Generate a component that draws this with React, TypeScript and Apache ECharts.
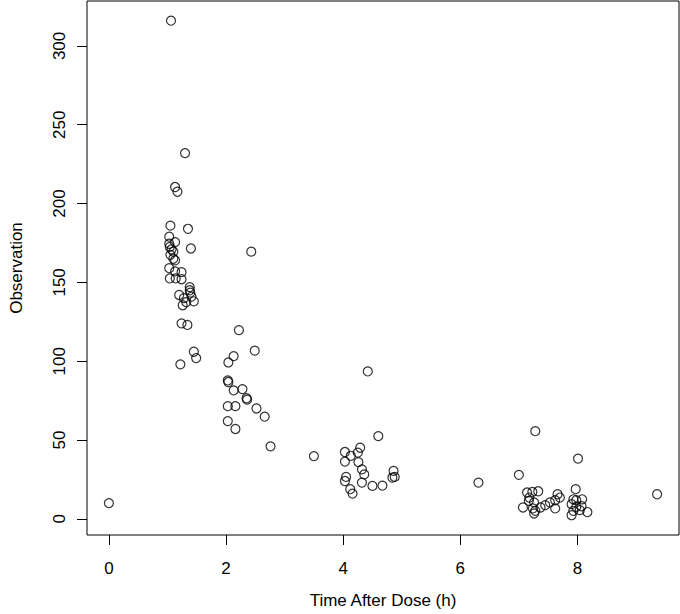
import React, { useEffect, useRef } from "react";
import * as echarts from "echarts";

// Time after dose (h) and the matching observation
const timeAfterDose = [
  0.0,
  1.06, 1.3, 1.13, 1.17, 1.05, 1.35, 1.03, 1.13, 1.03, 1.04, 1.07, 1.4, 1.1, 1.05, 1.1, 1.13,
  1.03, 1.13, 1.24, 1.04, 1.14, 1.24, 1.38, 1.38, 1.39, 1.2, 1.28, 1.41, 1.45, 1.32, 1.26,
  1.24, 1.34, 1.45, 1.49, 1.22,
  2.43, 2.22, 2.49, 2.13, 2.04, 2.03, 2.04, 2.13, 2.28, 2.35, 2.36, 2.52, 2.66, 2.03, 2.16,
  2.03, 2.16, 2.76, 3.5,
  4.42, 4.6, 4.03, 4.29, 4.13, 4.25, 4.03, 4.26, 4.32, 4.36, 4.86, 4.88, 4.84, 4.05, 4.03,
  4.32, 4.5, 4.67, 4.12, 4.16,
  6.31, 7.28, 7.0, 8.01, 9.36,
  7.14, 7.23, 7.33, 7.18, 7.17, 7.26, 7.07, 7.24, 7.28, 7.26, 7.37, 7.45, 7.53, 7.62, 7.66,
  7.7, 7.62, 7.97, 7.93, 7.98, 8.08, 7.9, 7.98, 8.07, 7.93, 8.04, 8.17, 7.9,
];

const observation = [
  10,
  316, 232, 210.5, 207.5, 186, 184, 179, 175.5, 174.5, 172.5, 171, 171.5, 169.5, 167.5, 165, 164,
  159, 157, 156.5, 152.5, 152.5, 152, 147, 145, 143.5, 142, 140, 141, 138, 137.5, 135.5,
  124, 123, 106, 102, 98,
  169.5, 119.7, 106.7, 103.2, 99.2, 87.8, 86.8, 81.5, 82.3, 76.5, 75.6, 70, 64.8, 71.5, 71.5,
  62, 57, 46, 39.8,
  93.5, 52.5, 42.4, 45.1, 40, 42, 36.3, 36, 31.4, 28.2, 30.4, 26.6, 26.2, 26.6, 24,
  23, 20.9, 21.1, 18.8, 16,
  23, 55.6, 27.9, 38.2, 15.6,
  16.7, 17.1, 17.5, 13.5, 11.4, 10.4, 7.2, 6.6, 5.1, 3.4, 7.2, 8.7, 10.4, 11.8, 15.6,
  13.5, 6.6, 18.8, 12.4, 11.8, 12.4, 9.3, 7.6, 8.0, 5.1, 5.5, 4.3, 2.3,
];

const xTickValues = [0, 2, 4, 6, 8];
const yTickValues = [0, 50, 100, 150, 200, 250, 300];
const xTitle = "Time After Dose (h)";
const yTitle = "Observation";

const FONT = "'Liberation Sans', Arial, Helvetica, sans-serif";
const FONT_SIZE = 17;

export default function App() {
  const ref = useRef<HTMLDivElement>(null);

  useEffect(() => {
    if (!ref.current) return;
    const chart = echarts.init(ref.current, null, { renderer: "svg" });
    const points = timeAfterDose.map((t, i) => [t, observation[i]]);

    chart.setOption({
      animation: false,
      backgroundColor: "#ffffff",
      grid: {
        left: 79,
        right: 1,
        top: 1,
        bottom: 77,
        show: true,
        borderColor: "#000",
        borderWidth: 1,
        backgroundColor: "transparent",
      },
      xAxis: {
        type: "value",
        min: -0.374,
        max: 9.734,
        splitLine: { show: false },
        axisLine: { show: false, onZero: false },
        axisTick: {
          show: true,
          inside: false,
          length: 10,
          lineStyle: { color: "#000", width: 1 },
          customValues: xTickValues,
        },
        axisLabel: {
          customValues: xTickValues,
          margin: 25,
          fontSize: FONT_SIZE,
          color: "#000",
          fontFamily: FONT,
        },
        name: xTitle,
        nameLocation: "middle",
        nameGap: 57,
        nameTextStyle: { fontSize: FONT_SIZE, color: "#000", fontFamily: FONT },
      },
      yAxis: {
        type: "value",
        min: -10.25,
        max: 328.5,
        splitLine: { show: false },
        axisLine: { show: false, onZero: false },
        axisTick: {
          show: true,
          inside: false,
          length: 10,
          lineStyle: { color: "#000", width: 1 },
          customValues: yTickValues,
        },
        axisLabel: {
          customValues: yTickValues,
          rotate: 90,
          margin: 19,
          fontSize: FONT_SIZE,
          color: "#000",
          fontFamily: FONT,
        },
        name: yTitle,
        nameLocation: "middle",
        nameGap: 62,
        nameTextStyle: { fontSize: FONT_SIZE, color: "#000", fontFamily: FONT },
      },
      series: [
        {
          type: "scatter",
          data: points,
          symbol: "circle",
          symbolSize: 9,
          itemStyle: {
            color: "rgba(0,0,0,0)",
            borderColor: "#000",
            borderWidth: 1.2,
          },
        },
      ],
    });

    return () => chart.dispose();
  }, []);

  return (
    <div
      ref={ref}
      style={{
        position: "fixed",
        left: 0,
        top: 0,
        width: 680,
        height: 614,
        background: "#fff",
      }}
    />
  );
}
